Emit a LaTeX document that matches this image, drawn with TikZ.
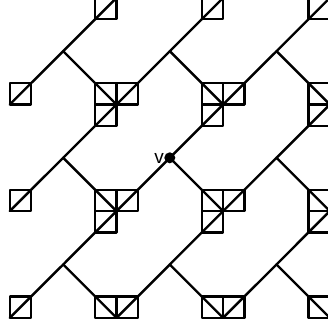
\documentclass[tikz,border=0pt]{standalone}
\usepackage{fontspec}
\setmainfont{Liberation Sans}
\tikzset{edge/.style={line width=2.4pt,line cap=round,line join=round},
 dot/.style={circle,fill=black,inner sep=0pt,minimum size=11pt},
 lbl/.style={font=\fontsize{19}{19}\selectfont,inner sep=0pt}}
\begin{document}
\begin{tikzpicture}[x=1pt,y=-1pt]
\useasboundingbox (0,0) rectangle (328,331);
\clip (0,0) rectangle (328,331);
% cluster centres: column a..d, row 0..3
\def\sq{21.33}
\foreach \n/\cx in {a/9.8,b/116.5,c/223.1,d/329.8}{
 \foreach \r/\cy in {0/-2.1,1/104.5,2/211.1,3/317.8}{
  \coordinate (\n\r) at (\cx,\cy);
  \coordinate (\n\r ul) at (\cx-\sq,\cy-\sq);
  \coordinate (\n\r ur) at (\cx+\sq,\cy-\sq);
  \coordinate (\n\r ll) at (\cx-\sq,\cy+\sq);
 }}
% branch points
\coordinate (j1) at (63.2,51.2);
\coordinate (j2) at (169.8,51.2);
\coordinate (j3) at (276.5,51.2);
\coordinate (j4) at (63.2,157.8);
\coordinate (j6) at (276.5,157.8);
\coordinate (j7) at (63.2,264.5);
\coordinate (j8) at (169.8,264.5);
\coordinate (j9) at (276.5,264.5);
\node[dot] (v) at (169.8,157.8) {};
\node[lbl,anchor=base east] (vl) at (164,163) {v};
% squares with diagonals
\foreach \c in {a1,a2,a3,b1,b2,b3,c1,c2,c3}{
 \draw[edge] (\c) rectangle (\c ur);
 \draw[edge] (\c) -- (\c ur);
}
\foreach \c in {b1,b2,b3,c1,c2,c3,d1,d2,d3}{
 \draw[edge] (\c) rectangle (\c ul);
 \draw[edge] (\c) -- (\c ul);
}
\foreach \c in {b0,b1,b2,c0,c1,c2,d0,d1,d2}{
 \draw[edge] (\c) rectangle (\c ll);
 \draw[edge] (\c) -- (\c ll);
}
% connectors
\draw[edge] (a1ur) -- (j1) -- (b0ll);
\draw[edge] (j1) -- (b1ul);
\draw[edge] (b1ur) -- (j2) -- (c0ll);
\draw[edge] (j2) -- (c1ul);
\draw[edge] (c1ur) -- (j3) -- (d0ll);
\draw[edge] (j3) -- (d1ul);
\draw[edge] (a2ur) -- (j4) -- (b1ll);
\draw[edge] (j4) -- (b2ul);
\draw[edge] (b2ur) -- (v.center) -- (c1ll);
\draw[edge] (v.center) -- (c2ul);
\draw[edge] (c2ur) -- (j6) -- (d1ll);
\draw[edge] (j6) -- (d2ul);
\draw[edge] (a3ur) -- (j7) -- (b2ll);
\draw[edge] (j7) -- (b3ul);
\draw[edge] (b3ur) -- (j8) -- (c2ll);
\draw[edge] (j8) -- (c3ul);
\draw[edge] (c3ur) -- (j9) -- (d2ll);
\draw[edge] (j9) -- (d3ul);
\end{tikzpicture}
\end{document}
